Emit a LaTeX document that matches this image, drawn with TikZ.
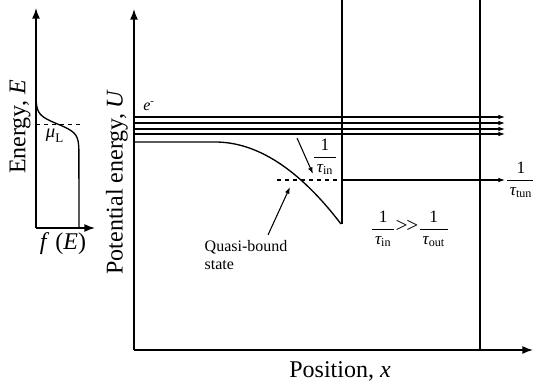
\documentclass[tikz,border=0pt]{standalone}
\usepackage{amsmath}
\usepackage{fontspec}
\setmainfont{Liberation Serif}
\usetikzlibrary{arrows.meta}
\newcommand{\rate}[1]{$\dfrac{\text{1}}{\,\text{\itshape τ}_{\text{#1}}\,}$}

\begin{document}
\begin{tikzpicture}[x=0.75pt,y=-0.75pt,
  axisline/.style={-{Latex[length=8pt,width=6pt]}, line width=1.1pt},
  levelline/.style={-{Latex[length=5pt,width=3.5pt]}, line width=0.8pt},
  bigtext/.style={font=\fontsize{18}{20}\selectfont},
  smalltext/.style={font=\fontsize{12}{14}\selectfont},
  ratetext/.style={font=\fontsize{13}{15}\selectfont}]
\useasboundingbox (0,0) rectangle (533,385);
% Fermi function of the lead
\draw[axisline] (36,228) -- (36,8);
\draw[axisline] (36,228) -- (95,228);
\draw[line width=1pt] plot[variable=\t, domain=90:150, samples=60] ({36+43/(1+exp(-(\t-124)/4.5))},\t) -- (79,228);
\draw[dashed] (36,124) -- (80,124);
\node[font=\fontsize{14}{16}\selectfont] (mu) at (55,136) {$\text{\itshape μ}_{\text{L}}$};
\node[bigtext, rotate=90] (elabel) at (20,127) {Energy, \textit{E}};
\node[bigtext] (flabel) at (63,244) {\textit{f} (\textit{E})};
% potential profile
\draw[axisline] (134,350) -- (134,9);
\draw[axisline] (134,350) -- (533,350);
\draw[line width=1pt] (342,0) -- (342,224);
\draw[line width=1pt] (480,0) -- (480,350);
\foreach \y in {117,123,129,134}
  \draw[levelline] (134,\y) -- (505,\y);
\draw[line width=1pt] (134,142) -- (215,142) .. controls (257,142) and (299,169) .. (341,224);
\draw[dashed, line width=0.8pt] (277,180) -- (342,180);
\draw[levelline] (342,180) -- (505,180);
\node[smalltext] (el) at (149,106) {\textit{e}\textsuperscript{-}};
\node[ratetext] (tin) at (325,157) {\rate{in}};
\node[ratetext] (ttun) at (521,180) {\rate{tun}};
\node[ratetext, inner sep=0pt] (ratio) at (410,229) {\rate{in}{\fontsize{16}{18}\selectfont\raisebox{1pt}{>\kern-1pt>}}\rate{out}};
\node[smalltext, align=left, anchor=west] (qbs) at (200,255) {Quasi-bound\\state};
\coordinate (tinfrom) at (297,138);
\coordinate (tinto) at (313,174);
\coordinate (qbsfrom) at (268,235);
\coordinate (qbsto) at (290,187);
\draw[levelline] (tinfrom) -- (tinto);
\draw[levelline] (qbsfrom) -- (qbsto);
\node[bigtext, rotate=90] (ulabel) at (117,182) {Potential energy, \textit{U}};
\node[bigtext] (xlabel) at (340,371) {Position, \textit{x}};
\end{tikzpicture}
\end{document}
